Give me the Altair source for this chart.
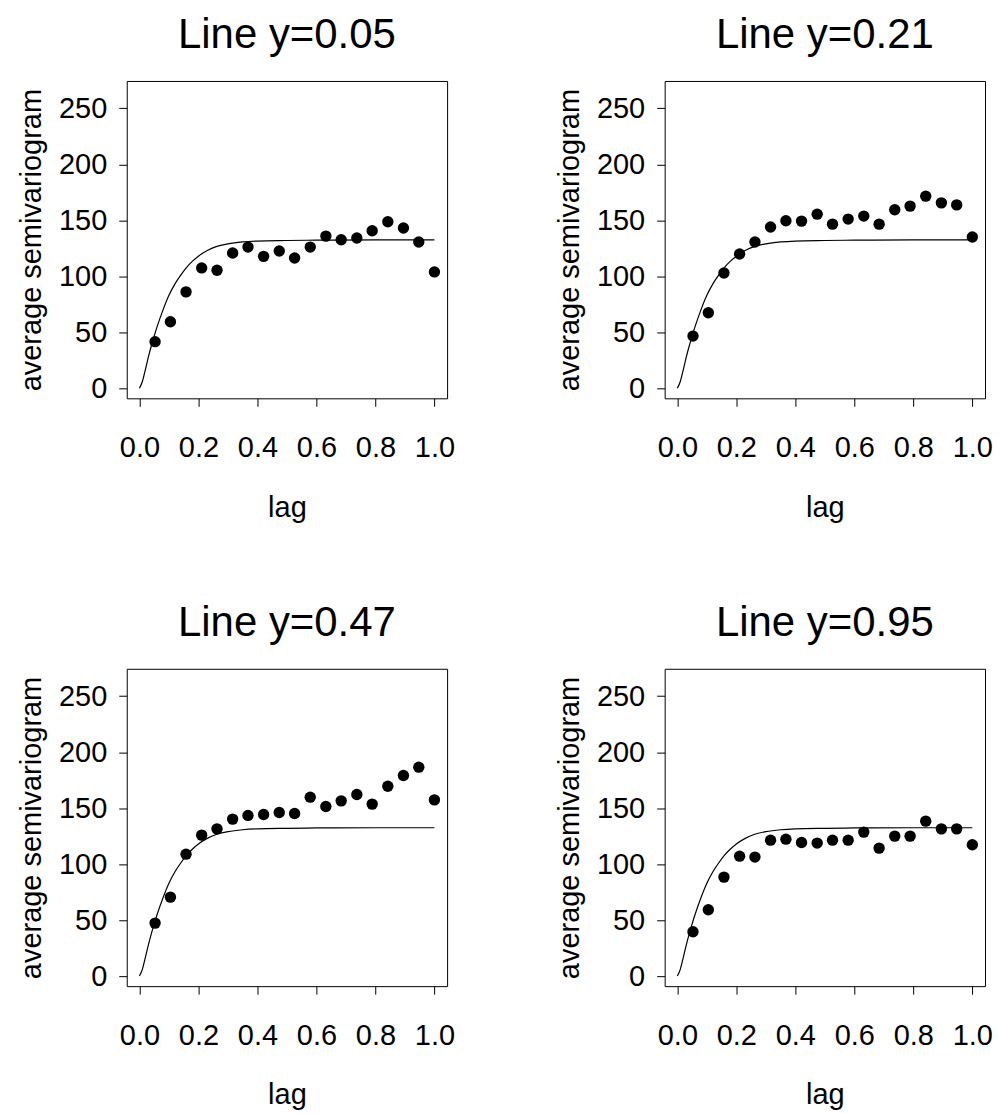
import altair as alt
import pandas as pd

# lag bins (x) shared by every panel
lags = [0.053, 0.105, 0.158, 0.211, 0.263, 0.316, 0.368, 0.421, 0.474, 0.526,
        0.579, 0.632, 0.684, 0.737, 0.789, 0.842, 0.895, 0.947, 1.0]

titles = ["Line y=0.05", "Line y=0.21", "Line y=0.47", "Line y=0.95"]

gamma_y005 = [41.6, 59.4, 86.1, 107.5, 105.4, 120.8, 126.1, 117.8, 122.6, 116.4,
              126.1, 135.9, 132.7, 134.2, 140.7, 148.7, 143.1, 130.6, 103.9]
gamma_y021 = [46.6, 67.4, 103.0, 119.9, 130.6, 144.0, 149.6, 149.3, 155.5, 146.6,
              151.1, 153.8, 146.6, 159.4, 162.7, 171.6, 165.6, 163.8, 135.1]
gamma_y047 = [47.3, 70.5, 108.9, 125.9, 131.5, 140.2, 143.5, 144.3, 146.1, 145.2,
              159.8, 151.5, 156.5, 162.2, 153.6, 169.6, 179.2, 186.6, 157.4]
gamma_y095 = [39.6, 59.2, 88.4, 107.1, 106.3, 121.4, 122.3, 119.3, 118.8, 121.4,
              121.4, 128.6, 114.3, 125.0, 125.0, 138.4, 131.5, 131.5, 117.3]

# fitted model curve
curve_lag = [0.0, 0.01, 0.02, 0.03, 0.04, 0.05, 0.06, 0.08, 0.10, 0.12, 0.14, 0.16,
             0.18, 0.20, 0.23, 0.26, 0.30, 0.35, 0.40, 0.50, 0.60, 0.80, 1.0]
curve_val = [0.0, 6.0, 16.5, 27.5, 37.5, 46.5, 55.0, 70.0, 83.0, 93.0, 101.0, 108.0,
             113.5, 118.0, 123.0, 126.5, 129.0, 130.7, 131.5, 132.0, 132.3, 132.5, 132.5]

x_ticks = [0.0, 0.2, 0.4, 0.6, 0.8, 1.0]
y_ticks = [0, 50, 100, 150, 200, 250]

FONT = "Liberation Sans"


def panel(title, vals):
    pts = pd.DataFrame({"lag": lags, "g": vals})
    cur = pd.DataFrame({"lag": curve_lag, "g": curve_val})
    x = alt.X("lag:Q",
              scale=alt.Scale(domain=[-0.043, 1.043], nice=False, zero=False),
              axis=alt.Axis(values=x_ticks, format=".1f", title="lag"))
    y = alt.Y("g:Q",
              scale=alt.Scale(domain=[-9, 274.5], nice=False, zero=False),
              axis=alt.Axis(values=y_ticks, title="average semivariogram"))
    line = alt.Chart(cur).mark_line(color="black", strokeWidth=1.2,
                                    interpolate="monotone").encode(x=x, y=y)
    dots = alt.Chart(pts).mark_circle(color="black", size=130,
                                      opacity=1).encode(x=x, y=y)
    return alt.layer(line, dots).properties(width=321, height=318,
                                            title=alt.TitleParams(title))


panels = [panel(t, v) for t, v in zip(titles, [gamma_y005, gamma_y021, gamma_y047, gamma_y095])]

chart = alt.concat(*panels, columns=2, spacing={"row": 271, "column": 218},
                   bounds="flush").properties(
    padding={"left": 17, "top": 12, "right": 5, "bottom": 5},
    background="white",
).configure_view(
    stroke="black", strokeWidth=1
).configure_axis(
    labelFont=FONT, titleFont=FONT, labelFontSize=29, titleFontSize=29,
    titleFontWeight="normal", labelColor="black", titleColor="black",
    tickColor="black", tickSize=8, tickWidth=1, domain=False, grid=False,
).configure_axisX(
    labelPadding=27, titlePadding=31
).configure_axisY(
    labelPadding=12, titlePadding=12
).configure_title(
    font=FONT, fontSize=42, fontWeight="normal", color="black",
    anchor="middle", offset=24
)

chart.save("out.html", embed_options={"renderer": "svg", "actions": False})
